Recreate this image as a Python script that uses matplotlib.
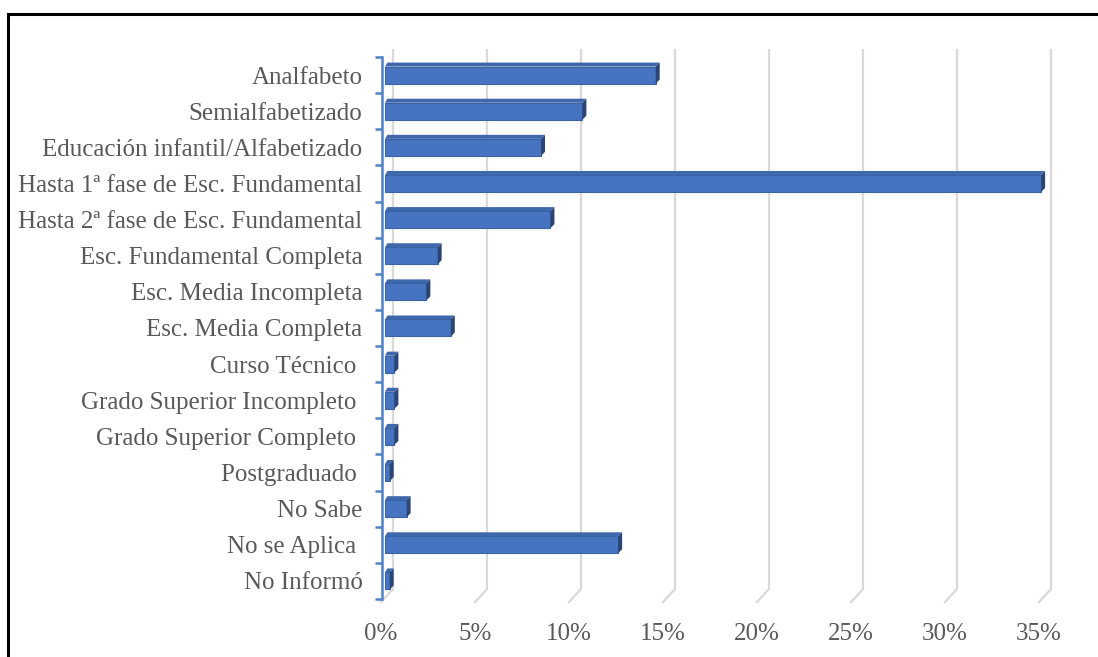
import matplotlib.pyplot as plt
from matplotlib.patches import Polygon, Rectangle
from matplotlib.lines import Line2D

# Data
categorias = ['Analfabeto', 'Semialfabetizado', 'Educación infantil/Alfabetizado',
              'Hasta 1ª fase de Esc. Fundamental', 'Hasta 2ª fase de Esc. Fundamental',
              'Esc. Fundamental Completa', 'Esc. Media Incompleta', 'Esc. Media Completa',
              'Curso Técnico ', 'Grado Superior Incompleto ', 'Grado Superior Completo ',
              'Postgraduado ', 'No Sabe', 'No se Aplica ', 'No Informó']
porcentajes = [14.4, 10.5, 8.3, 34.9, 8.8, 2.8, 2.2, 3.5, 0.5, 0.5, 0.5, 0.25, 1.15, 12.4, 0.25]
ticks_x = [0, 5, 10, 15, 20, 25, 30, 35]
etiquetas_x = ['0%', '5%', '10%', '15%', '20%', '25%', '30%', '35%']

W, H = 1098, 657
ppu = 658 / 35.0          # pixels per percent
row = (599 - 57) / 15.0   # pixels per category

plt.rcParams['font.family'] = 'Liberation Serif'
fig = plt.figure(figsize=(W / 100, H / 100), dpi=100)
ax = fig.add_axes([376 / W, 1 - 599 / H, (1060 - 376) / W, (599 - 57) / H])
ax.set_xlim(-(385 - 376) / ppu, (1060 - 385) / ppu)
ax.set_ylim(len(categorias) - 0.5, -0.5)

gris = '#595959'
azul_eje = '#4f81c7'

# 3D style gridlines
back = 8 / ppu
front = -4 / ppu
for v in ticks_x:
    ax.plot([v + back, v + back, v + front],
            [-0.5 - 7 / row, len(categorias) - 0.5 - 10 / row, len(categorias) - 0.5 + 3 / row],
            color='#d9d9d9', lw=1.6, clip_on=False, zorder=0)

# bars with a dark end side and top edge
bh = 17 / row
dx = 4 / ppu
dy = 4 / row
for i, v in enumerate(porcentajes):
    top = i - bh / 2
    ax.add_patch(Polygon([(0 + dx * 0.6, top - dy), (v + dx, top - dy), (v, top), (0, top)],
                         closed=True, facecolor='#3f67ab', edgecolor='none', zorder=2))
    ax.add_patch(Rectangle((0, top), v, bh, facecolor='#4674c0', edgecolor='#3a62a6', lw=0.8, zorder=3))
    ax.add_patch(Polygon([(v, top), (v + dx, top - dy), (v + dx, top - dy + bh), (v, top + bh)],
                         closed=True, facecolor='#2b4676', edgecolor='none', zorder=3))

# axes styling
for s in ['top', 'right', 'bottom']:
    ax.spines[s].set_visible(False)
ax.spines['left'].set_position(('data', -3 / ppu))
ax.spines['left'].set_color(azul_eje)
ax.spines['left'].set_linewidth(1.8)

ax.set_yticks([i - 0.5 for i in range(len(categorias) + 1)])
ax.set_yticklabels([])
ax.tick_params(axis='y', which='major', length=5, width=1.8, color=azul_eje, direction='out')
ax.set_yticks(range(len(categorias)), minor=True)
ax.set_yticklabels(categorias, minor=True)
ax.tick_params(axis='y', which='minor', length=0, pad=14, labelsize=18, labelcolor=gris)

ax.set_xticks([v + front for v in ticks_x])
ax.set_xticklabels(etiquetas_x)
ax.tick_params(axis='x', length=0, pad=17, labelsize=18, labelcolor=gris)

# outer border (only top/left visible in the crop)
fig.add_artist(Line2D([8 / W, 8 / W], [0, 1 - 14 / H], color='black', lw=2.2))
fig.add_artist(Line2D([8 / W, 1], [1 - 14 / H, 1 - 14 / H], color='black', lw=2.2))

fig.savefig('out.png', dpi=100, facecolor='white')
